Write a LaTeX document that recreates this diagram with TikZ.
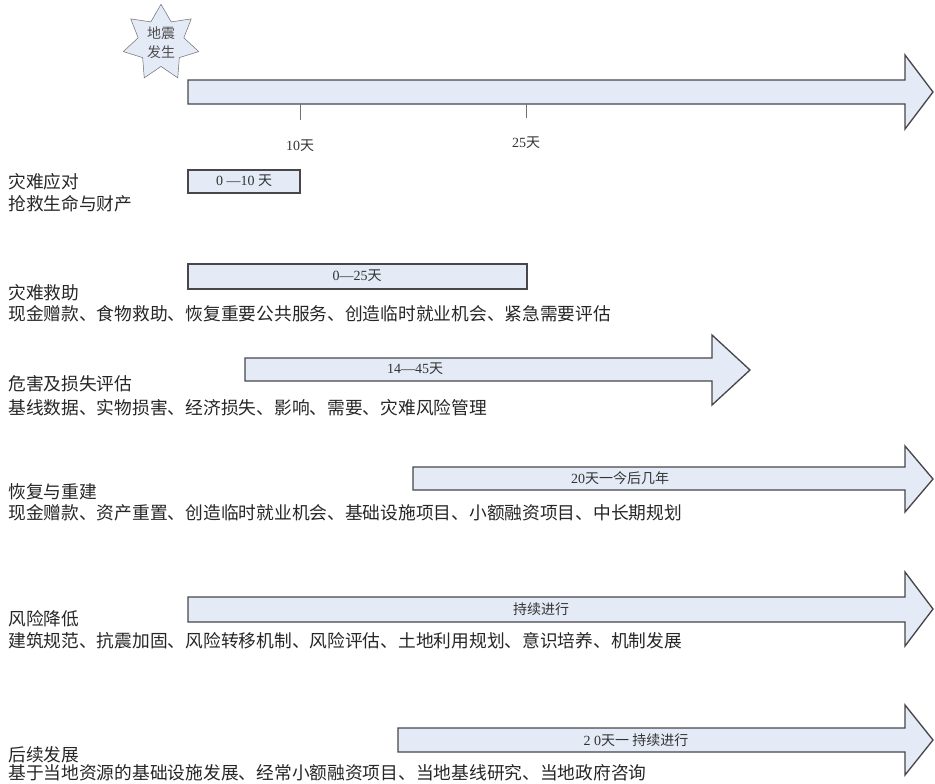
\documentclass[tikz,border=0pt]{standalone}
\usepackage{fontspec}
\setmainfont{Liberation Serif}
\newfontfamily\cjk{Noto Sans CJK SC}
\usepackage{xcolor}
\usetikzlibrary{shapes,positioning}
\definecolor{phasefill}{RGB}{229,235,246}
\definecolor{phaseline}{RGB}{70,70,75}

\begin{document}
\begin{tikzpicture}[
        %We set the scale (one unit = one pixel) and define some styles
        x=0.75pt, y=-0.75pt,
        phase/.style={draw=phaseline, fill=phasefill, line width=1pt, line join=miter},
        tick line/.style={draw=black!55, thin},
        span text/.style={font=\fontsize{10.5}{12}\selectfont, text=black!80},
        title text/.style={anchor=west, inner sep=0pt, text=black!85,
                           font=\cjk\fontsize{13.3}{15}\selectfont},
        every node/.style={color=black}
    ]
    \useasboundingbox (0,0) rectangle (935,783);

    % Earthquake star
    \node[star, star points=7, star point ratio=1.65, draw=black!55, fill=phasefill,
          inner sep=0pt, minimum size=58pt, align=center, text=black!70,
          font=\cjk\fontsize{10.5}{14}\selectfont] (quake) at (161,43) {地震\\发生};

    % Main time line
    \draw[phase] (188,80) -- (905,80) -- (905,55) -- (933,92) -- (905,129)
                 -- (905,104) -- (188,104) -- cycle;
    \draw[tick line] (300,104) -- (300,120);
    \draw[tick line] (526,104) -- (526,118);
    \node[span text] (day10) at (300,146) {10{\cjk 天}};
    \node[span text] (day25) at (526,143) {25{\cjk 天}};

    % Disaster response
    \draw[phase] (188,170) rectangle (300,193);
    \node[span text] (span1) at (244,181) {0 —10 {\cjk 天}};
    \node[title text] (title1) at (8,182) {灾难应对};
    \node[title text] (items1) at (8,204) {抢救生命与财产};

    % Disaster relief
    \draw[phase] (188,264) rectangle (527,289);
    \node[span text] (span2) at (357,276) {0—25{\cjk 天}};
    \node[title text] (title2) at (8,293) {灾难救助};
    \node[title text] (items2) at (8,314) {现金赠款、食物救助、恢复重要公共服务、创造临时就业机会、紧急需要评估};

    % Damage and loss assessment
    \draw[phase] (245,358) -- (712,358) -- (712,335) -- (750,370) -- (712,405)
                 -- (712,381) -- (245,381) -- cycle;
    \node[span text] (span3) at (415,369) {14—45{\cjk 天}};
    \node[title text] (title3) at (8,384) {危害及损失评估};
    \node[title text] (items3) at (8,408) {基线数据、实物损害、经济损失、影响、需要、灾难风险管理};

    % Recovery and reconstruction
    \draw[phase] (413,467) -- (905,467) -- (905,446) -- (933,479) -- (905,512)
                 -- (905,490) -- (413,490) -- cycle;
    \node[span text] (span4) at (620,478) {20{\cjk 天一今后几年}};
    \node[title text] (title4) at (8,492) {恢复与重建};
    \node[title text] (items4) at (8,513) {现金赠款、资产重置、创造临时就业机会、基础设施项目、小额融资项目、中长期规划};

    % Risk reduction
    \draw[phase] (188,597) -- (905,597) -- (905,572) -- (933,609) -- (905,646)
                 -- (905,622) -- (188,622) -- cycle;
    \node[span text] (span5) at (541,609) {\cjk 持续进行};
    \node[title text] (title5) at (8,619) {风险降低};
    \node[title text] (items5) at (8,641) {建筑规范、抗震加固、风险转移机制、风险评估、土地利用规划、意识培养、机制发展};

    % Follow-up development
    \draw[phase] (398,728) -- (905,728) -- (905,705) -- (933,740) -- (905,775)
                 -- (905,752) -- (398,752) -- cycle;
    \node[span text] (span6) at (636,740) {2 0{\cjk 天一 持续进行}};
    \node[title text] (title6) at (8,755) {后续发展};
    \node[title text] (items6) at (8,773) {基于当地资源的基础设施发展、经常小额融资项目、当地基线研究、当地政府咨询};
\end{tikzpicture}
\end{document}
